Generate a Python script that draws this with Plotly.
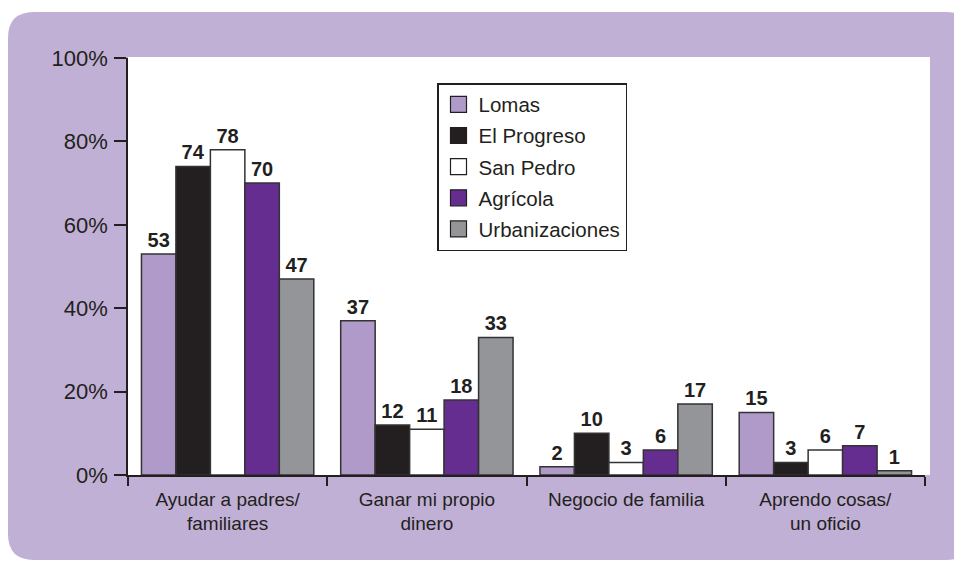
import plotly.graph_objects as go

categories = ["Ayudar a padres/<br>familiares", "Ganar mi propio<br>dinero", "Negocio de familia", "Aprendo cosas/<br>un oficio"]
series_names = ["Lomas", "El Progreso", "San Pedro", "Agrícola", "Urbanizaciones"]
lomas = [53, 37, 2, 15]
el_progreso = [74, 12, 10, 3]
san_pedro = [78, 11, 3, 6]
agricola = [70, 18, 6, 7]
urbanizaciones = [47, 33, 17, 1]
y_tickvals = [0, 20, 40, 60, 80, 100]
y_ticklabels = ["0%", "20%", "40%", "60%", "80%", "100%"]

series_values = [lomas, el_progreso, san_pedro, agricola, urbanizaciones]
colors = ["#B09ACA", "#231F20", "#FFFFFF", "#652D90", "#939598"]

W, H = 954, 561
ML, MR, MT, MB = 128, 29, 58, 86
PW, PH = W - ML - MR, H - MT - MB

def px(x):
    return (x - ML) / PW

def py(y):
    return (H - MB - y) / PH

def rounded(x0, y0, x1, y1, r):
    pts = []
    pts.append(f"M{px(x0 + r)},{py(y0)}")
    pts.append(f"L{px(x1 - r)},{py(y0)}")
    pts.append(f"Q{px(x1)},{py(y0)} {px(x1)},{py(y0 + r)}")
    pts.append(f"L{px(x1)},{py(y1 - r)}")
    pts.append(f"Q{px(x1)},{py(y1)} {px(x1 - r)},{py(y1)}")
    pts.append(f"L{px(x0 + r)},{py(y1)}")
    pts.append(f"Q{px(x0)},{py(y1)} {px(x0)},{py(y1 - r)}")
    pts.append(f"L{px(x0)},{py(y0 + r)}")
    pts.append(f"Q{px(x0)},{py(y0)} {px(x0 + r)},{py(y0)}")
    return " ".join(pts) + " Z"

FONT = "Liberation Sans, Arial, sans-serif"
INK = "#231F20"

fig = go.Figure()
for name, vals, col in zip(series_names, series_values, colors):
    fig.add_trace(go.Bar(
        x=categories, y=vals, name=name, showlegend=False,
        marker=dict(color=col, line=dict(color="#333333", width=1.5)),
        text=vals, texttemplate="<b>%{text}</b>", textposition="outside",
        textfont=dict(family=FONT, size=20, color=INK),
        cliponaxis=False, hoverinfo="skip",
    ))
for i, (name, col) in enumerate(zip(series_names, colors)):
    fig.add_trace(go.Scatter(
        x=[None], y=[None], mode="markers", name=name, legendgroup=f"g{i}",
        marker=dict(symbol="square", size=16, color=col, line=dict(color=INK, width=1.2)),
    ))

fig.add_shape(type="path", xref="paper", yref="paper", path=rounded(8, 12, 972, 560, 26),
              fillcolor="#C1B0D5", line=dict(width=0), layer="below")
fig.add_shape(type="rect", xref="paper", yref="paper", x0=px(ML), x1=px(930), y0=0, y1=py(MT - 1),
              fillcolor="white", line=dict(width=0), layer="below")

fig.update_layout(
    width=W, height=H,
    margin=dict(l=ML, r=MR, t=MT, b=MB),
    paper_bgcolor="white", plot_bgcolor="rgba(0,0,0,0)",
    barmode="group", bargap=0.135, bargroupgap=0,
    hovermode=False,
    legend=dict(
        x=px(437), y=py(83), xanchor="left", yanchor="top",
        bgcolor="white", bordercolor=INK, borderwidth=1.5,
        font=dict(family=FONT, size=20.5, color=INK),
        traceorder="grouped", tracegroupgap=1.5, itemwidth=30,
        entrywidth=170, entrywidthmode="pixels",
    ),
    xaxis=dict(
        showline=True, linecolor=INK, linewidth=1.5, ticks="outside", tickson="boundaries",
        ticklen=9, tickwidth=1.5, tickcolor=INK, showgrid=False,
        tickfont=dict(family=FONT, size=19, color=INK), ticklabelstandoff=6,
    ),
    yaxis=dict(
        range=[0, 100], tickmode="array", tickvals=y_tickvals, ticktext=y_ticklabels,
        showline=True, linecolor=INK, linewidth=1.5, ticks="outside", ticklen=12,
        tickwidth=1.5, tickcolor=INK, showgrid=False, zeroline=False,
        tickfont=dict(family=FONT, size=22, color=INK), ticklabelstandoff=2,
    ),
)

fig.write_html("out.html", config={"displayModeBar": False},
               post_script="document.body.style.margin='0';document.body.style.overflow='hidden';")
